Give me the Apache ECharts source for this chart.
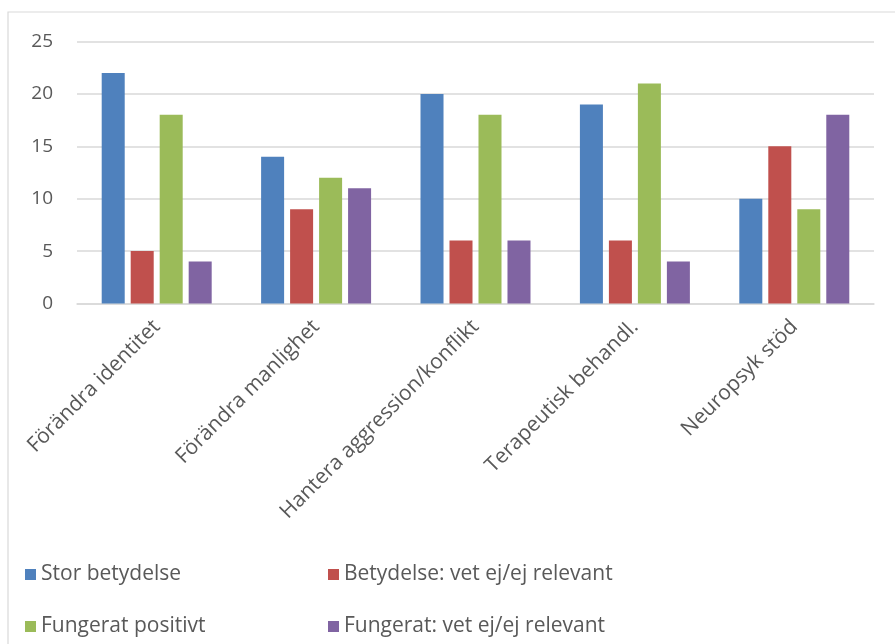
<!DOCTYPE html>
<html><head><meta charset="utf-8">
<script src="https://cdn.jsdelivr.net/npm/echarts@6/dist/echarts.min.js"></script>
<style>html,body{margin:0;padding:0;background:#fff}#c{width:895px;height:644px}</style>
</head><body><div id="c"></div>
<script>
const categories = ['Förändra identitet','Förändra manlighet','Hantera aggression/konflikt','Terapeutisk behandl.','Neuropsyk stöd'];
const seriesNames = ['Stor betydelse','Betydelse: vet ej/ej relevant','Fungerat positivt','Fungerat: vet ej/ej relevant'];
const storBetydelse = [22,14,20,19,10];
const betydelseVetEj = [5,9,6,6,15];
const fungeratPositivt = [18,12,18,21,9];
const fungeratVetEj = [4,11,6,4,18];
const colors = ['#4F81BD','#C0504D','#9BBB59','#8064A2'];
const values = [storBetydelse,betydelseVetEj,fungeratPositivt,fungeratVetEj];
const font = '"Open Sans", sans-serif';
const legendPos = [[20,559],[323,559],[20,611],[323,611]];
const chart = echarts.init(document.getElementById('c'));
chart.setOption({
  animation:false,
  color:colors,
  graphic:[{type:'rect',shape:{x:8,y:12,width:900,height:700},style:{fill:'none',stroke:'#d9d9d9',lineWidth:1.2},silent:true}],
  legend: seriesNames.map((n,i)=>({data:[n],left:legendPos[i][0],top:legendPos[i][1],itemWidth:11,itemHeight:11,icon:'rect',itemGap:5,textStyle:{fontFamily:font,fontSize:21,color:'#595959'}})),
  grid:{left:77,right:21,top:41.5,bottom:340.5,containLabel:false},
  xAxis:{type:'category',data:categories,
    axisLine:{lineStyle:{color:'#d9d9d9',width:1.5}},axisTick:{show:false},
    axisLabel:{rotate:45,interval:0,fontFamily:font,fontSize:21,color:'#595959',margin:20}},
  yAxis:{type:'value',min:0,max:25,interval:5,
    axisLine:{show:false},axisTick:{show:false},
    splitLine:{lineStyle:{color:'#d9d9d9',width:1.5}},
    axisLabel:{fontFamily:font,fontSize:19,color:'#595959',margin:24}},
  series: seriesNames.map((n,i)=>({name:n,type:'bar',data:values[i],barGap:'26%',barCategoryGap:'31%',itemStyle:{color:colors[i]}}))
});
</script></body></html>
